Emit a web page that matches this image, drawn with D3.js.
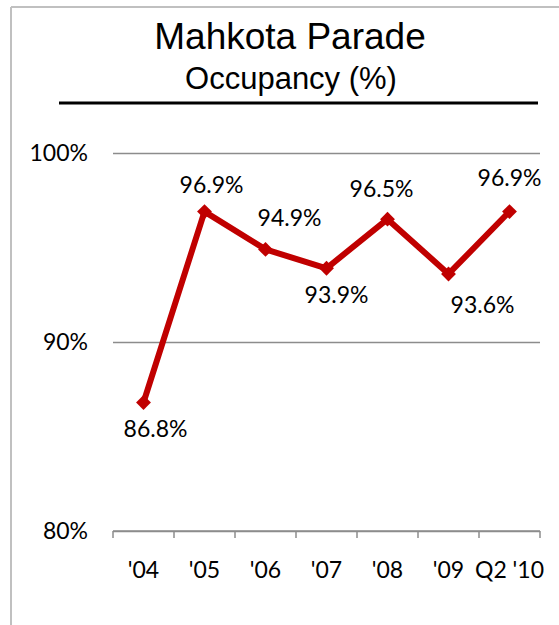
<!DOCTYPE html>
<html>
<head>
<meta charset="utf-8">
<script src="https://cdn.jsdelivr.net/npm/d3@7"></script>
<style>
  body { margin: 0; background: #fff; }
  svg { display: block; }
</style>
</head>
<body>
<svg width="559" height="625"></svg>
<script>
var categories = ["'04", "'05", "'06", "'07", "'08", "'09", "Q2 '10"];
var occupancy = [86.8, 96.9, 94.9, 93.9, 96.5, 93.6, 96.9];
var yTicks = [80, 90, 100];
// label nudges as placed in the original chart [dx, dy of baseline]
var labelNudge = [[12, 35], [7, -19], [24, -23], [10, 35], [-6, -22], [34, 39], [0, -26]];

var width = 559;
var height = 625;
var plotL = 113, plotR = 540, plotT = 153, plotB = 531;
var red = "#c00000";

var svg = d3.select("svg");

// frame
svg.append("line")
  .attr("x1", 11).attr("x2", width).attr("y1", 7).attr("y2", 7)
  .attr("stroke", "#c0c0c0").attr("stroke-width", 2);
svg.append("line")
  .attr("x1", 11).attr("x2", 11).attr("y1", 7).attr("y2", height)
  .attr("stroke", "#c0c0c0").attr("stroke-width", 2);

// titles
svg.append("text")
  .text("Mahkota Parade")
  .attr("x", 290).attr("y", 49)
  .attr("text-anchor", "middle")
  .style("font-family", "'Liberation Sans', Arial, sans-serif")
  .style("font-size", "37px")
  .attr("fill", "#000");
svg.append("text")
  .text("Occupancy (%)")
  .attr("x", 291).attr("y", 89)
  .attr("text-anchor", "middle")
  .style("font-family", "'Liberation Sans', Arial, sans-serif")
  .style("font-size", "31px")
  .attr("fill", "#000");
svg.append("line")
  .attr("x1", 59).attr("x2", 538).attr("y1", 103).attr("y2", 103)
  .attr("stroke", "#000").attr("stroke-width", 3);

var x = d3.scaleBand().domain(categories).range([plotL, plotR]);
var y = d3.scaleLinear().domain([80, 100]).range([plotB, plotT]);

var font = "Lato, 'Open Sans', sans-serif";

// y axis with gridlines
var yAxis = svg.append("g")
  .attr("transform", "translate(" + plotL + ",0)")
  .call(d3.axisLeft(y).tickValues(yTicks).tickSize(-(plotR - plotL)).tickPadding(25)
    .tickFormat(function(d){ return d + "%"; }));
yAxis.select(".domain").remove();
yAxis.selectAll(".tick line")
  .attr("stroke", "#8c8c8c")
  .attr("stroke-width", 1.5);
yAxis.selectAll(".tick text")
  .style("font-family", font)
  .style("font-size", "23px")
  .attr("fill", "#000");

// x axis: line at bottom, ticks at category boundaries
var xAxis = svg.append("g");
xAxis.append("line")
  .attr("x1", plotL).attr("x2", plotR)
  .attr("y1", y(80)).attr("y2", y(80))
  .attr("stroke", "#8c8c8c").attr("stroke-width", 1.5);
var bounds = categories.map(function(c){ return x(c); }).concat([plotR]);
xAxis.selectAll(".btick")
  .data(bounds)
  .enter()
  .append("line")
  .attr("class", "btick")
  .attr("x1", function(d){ return d; })
  .attr("x2", function(d){ return d; })
  .attr("y1", y(80))
  .attr("y2", y(80) + 7)
  .attr("stroke", "#8c8c8c").attr("stroke-width", 1.5);
xAxis.selectAll(".xlab")
  .data(categories)
  .enter()
  .append("text")
  .attr("class", "xlab")
  .text(function(d){ return d; })
  .attr("x", function(d){ return x(d) + x.bandwidth() / 2; })
  .attr("y", y(80) + 47)
  .attr("text-anchor", "middle")
  .style("font-family", font)
  .style("font-size", "23px")
  .attr("fill", "#000");

// line
var line = d3.line()
  .x(function(d, i){ return x(categories[i]) + x.bandwidth() / 2; })
  .y(function(d){ return y(d); });
svg.append("path")
  .datum(occupancy)
  .attr("d", line)
  .attr("fill", "none")
  .attr("stroke", red)
  .attr("stroke-width", 6)
  .attr("stroke-linejoin", "round");

// diamond markers
svg.selectAll(".marker")
  .data(occupancy)
  .enter()
  .append("path")
  .attr("class", "marker")
  .attr("d", d3.symbol().type(d3.symbolSquare).size(110))
  .attr("transform", function(d, i){
    return "translate(" + (x(categories[i]) + x.bandwidth() / 2) + "," + y(d) + ") rotate(45)";
  })
  .attr("fill", red);

// labels
svg.selectAll(".vlab")
  .data(occupancy)
  .enter()
  .append("text")
  .attr("class", "vlab")
  .text(function(d){ return d.toFixed(1) + "%"; })
  .attr("x", function(d, i){ return x(categories[i]) + x.bandwidth() / 2 + labelNudge[i][0]; })
  .attr("y", function(d, i){ return y(d) + labelNudge[i][1]; })
  .attr("text-anchor", "middle")
  .style("font-family", font)
  .style("font-size", "23px")
  .attr("fill", "#000");
</script>
</body>
</html>
